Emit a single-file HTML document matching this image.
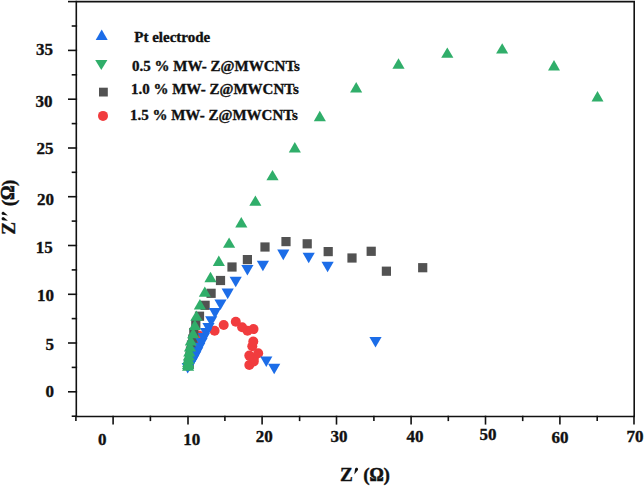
<!DOCTYPE html>
<html><head><meta charset="utf-8"><style>
html,body{margin:0;padding:0;background:#fff;}
body{width:644px;height:487px;overflow:hidden;}
svg{display:block;}
text{font-family:"Liberation Serif",serif;font-weight:bold;fill:#111;stroke:#111;stroke-width:0.35px;}
</style></head><body>
<svg width="644" height="487" viewBox="0 0 644 487">
<g stroke="#111" stroke-width="1.6" fill="none" stroke-linecap="square">
<path d="M76.3 1.6L634.2 1.6L634.2 416.5L76.3 416.5Z"/>
<path d="M68.8 391.8H76.3"/>
<path d="M68.8 343.0H76.3"/>
<path d="M68.8 294.3H76.3"/>
<path d="M68.8 245.5H76.3"/>
<path d="M68.8 196.7H76.3"/>
<path d="M68.8 148.0H76.3"/>
<path d="M68.8 99.2H76.3"/>
<path d="M68.8 50.4H76.3"/>
<path d="M68.8 1.6H76.3"/>
<path d="M72.5 416.2H76.3"/>
<path d="M72.5 367.4H76.3"/>
<path d="M72.5 318.6H76.3"/>
<path d="M72.5 269.9H76.3"/>
<path d="M72.5 221.1H76.3"/>
<path d="M72.5 172.3H76.3"/>
<path d="M72.5 123.6H76.3"/>
<path d="M72.5 74.8H76.3"/>
<path d="M72.5 26.0H76.3"/>
<path d="M113.1 416.5V423.8"/>
<path d="M188.0 416.5V423.8"/>
<path d="M262.1 416.5V423.8"/>
<path d="M336.5 416.5V423.8"/>
<path d="M411.1 416.5V423.8"/>
<path d="M485.5 416.5V423.8"/>
<path d="M559.9 416.5V423.8"/>
<path d="M634.0 416.5V423.8"/>
<path d="M75.9 416.5V420.3"/>
<path d="M150.4 416.5V420.3"/>
<path d="M224.9 416.5V420.3"/>
<path d="M299.6 416.5V420.3"/>
<path d="M373.9 416.5V420.3"/>
<path d="M448.3 416.5V420.3"/>
<path d="M522.7 416.5V420.3"/>
<path d="M597.2 416.5V420.3"/>
</g>
<g fill="#f13c3e"><circle cx="188.0" cy="366.0" r="5.0"/><circle cx="189.0" cy="361.0" r="5.0"/><circle cx="190.5" cy="355.0" r="5.0"/><circle cx="192.5" cy="349.0" r="5.0"/><circle cx="195.0" cy="342.0" r="5.0"/><circle cx="199.0" cy="335.5" r="5.0"/><circle cx="249.3" cy="365.0" r="5.0"/><circle cx="253.8" cy="361.5" r="5.0"/><circle cx="253.8" cy="358.6" r="5.0"/><circle cx="249.3" cy="355.6" r="5.0"/><circle cx="258.2" cy="353.2" r="5.0"/><circle cx="252.3" cy="346.3" r="5.0"/><circle cx="253.3" cy="341.5" r="5.0"/><circle cx="253.5" cy="329.1" r="5.0"/><circle cx="247.5" cy="330.8" r="5.0"/><circle cx="242.1" cy="327.3" r="5.0"/><circle cx="235.8" cy="321.8" r="5.0"/><circle cx="223.7" cy="325.0" r="5.0"/><circle cx="214.6" cy="330.8" r="5.0"/></g>
<g fill="#525252"><rect x="184.6" y="359.4" width="9.2" height="9.2"/><rect x="184.9" y="355.4" width="9.2" height="9.2"/><rect x="185.4" y="351.4" width="9.2" height="9.2"/><rect x="185.9" y="346.4" width="9.2" height="9.2"/><rect x="186.9" y="340.4" width="9.2" height="9.2"/><rect x="188.2" y="334.4" width="9.2" height="9.2"/><rect x="189.2" y="327.9" width="9.2" height="9.2"/><rect x="191.2" y="319.9" width="9.2" height="9.2"/><rect x="194.9" y="311.6" width="9.2" height="9.2"/><rect x="200.5" y="300.7" width="9.2" height="9.2"/><rect x="206.5" y="288.7" width="9.2" height="9.2"/><rect x="215.9" y="275.9" width="9.2" height="9.2"/><rect x="227.4" y="262.4" width="9.2" height="9.2"/><rect x="242.8" y="255.0" width="9.2" height="9.2"/><rect x="260.4" y="242.4" width="9.2" height="9.2"/><rect x="281.4" y="237.0" width="9.2" height="9.2"/><rect x="302.6" y="239.2" width="9.2" height="9.2"/><rect x="323.6" y="247.0" width="9.2" height="9.2"/><rect x="347.4" y="253.4" width="9.2" height="9.2"/><rect x="366.6" y="246.7" width="9.2" height="9.2"/><rect x="381.8" y="266.6" width="9.2" height="9.2"/><rect x="418.1" y="263.1" width="9.2" height="9.2"/></g>
<g fill="#1c6de8"><path d="M268.1 363.7L280.3 363.7L274.2 374.3Z"/><path d="M260.2 356.5L272.4 356.5L266.3 367.1Z"/><path d="M181.6 363.0L193.8 363.0L187.7 373.6Z"/><path d="M183.4 360.7L195.6 360.7L189.5 371.3Z"/><path d="M185.3 358.0L197.5 358.0L191.4 368.6Z"/><path d="M187.2 354.7L199.4 354.7L193.3 365.3Z"/><path d="M189.1 351.2L201.3 351.2L195.2 361.8Z"/><path d="M191.1 347.2L203.3 347.2L197.2 357.8Z"/><path d="M193.2 342.7L205.4 342.7L199.3 353.3Z"/><path d="M195.4 338.0L207.6 338.0L201.5 348.6Z"/><path d="M197.7 333.1L209.9 333.1L203.8 343.7Z"/><path d="M200.0 328.1L212.2 328.1L206.1 338.7Z"/><path d="M202.4 323.1L214.6 323.1L208.5 333.7Z"/><path d="M205.1 316.2L217.3 316.2L211.2 326.8Z"/><path d="M208.9 308.1L221.1 308.1L215.0 318.7Z"/><path d="M214.4 299.4L226.6 299.4L220.5 310.0Z"/><path d="M221.6 288.6L233.8 288.6L227.7 299.2Z"/><path d="M229.6 276.7L241.8 276.7L235.7 287.3Z"/><path d="M241.3 264.9L253.5 264.9L247.4 275.5Z"/><path d="M256.8 260.7L269.0 260.7L262.9 271.3Z"/><path d="M277.2 249.6L289.4 249.6L283.3 260.2Z"/><path d="M302.6 252.7L314.8 252.7L308.7 263.3Z"/><path d="M321.5 261.7L333.7 261.7L327.6 272.3Z"/><path d="M369.4 337.0L381.6 337.0L375.5 347.6Z"/></g>
<g fill="#30ae6a"><path d="M188.1 360.3L194.2 370.7L182.0 370.7Z"/><path d="M188.1 358.6L194.2 369.0L182.0 369.0Z"/><path d="M188.2 356.6L194.2 367.0L182.1 367.0Z"/><path d="M188.4 353.6L194.5 364.0L182.3 364.0Z"/><path d="M188.8 350.1L194.9 360.5L182.8 360.5Z"/><path d="M189.3 346.1L195.4 356.5L183.2 356.5Z"/><path d="M190.0 341.1L196.1 351.5L183.9 351.5Z"/><path d="M190.8 335.1L196.9 345.5L184.8 345.5Z"/><path d="M193.2 327.8L199.2 338.2L187.1 338.2Z"/><path d="M194.8 319.5L200.9 329.9L188.8 329.9Z"/><path d="M196.4 310.4L202.5 320.8L190.3 320.8Z"/><path d="M199.9 299.1L206.0 309.5L193.8 309.5Z"/><path d="M204.8 286.4L210.9 296.8L198.8 296.8Z"/><path d="M210.5 271.8L216.6 282.2L204.4 282.2Z"/><path d="M218.8 255.6L224.9 266.0L212.8 266.0Z"/><path d="M229.1 237.4L235.2 247.8L223.0 247.8Z"/><path d="M241.3 217.1L247.4 227.5L235.2 227.5Z"/><path d="M255.4 195.4L261.4 205.8L249.3 205.8Z"/><path d="M272.5 169.9L278.6 180.3L266.4 180.3Z"/><path d="M294.8 142.1L300.9 152.5L288.8 152.5Z"/><path d="M319.8 110.8L325.9 121.2L313.8 121.2Z"/><path d="M356.2 82.1L362.2 92.5L350.1 92.5Z"/><path d="M398.5 58.3L404.6 68.7L392.4 68.7Z"/><path d="M447.3 47.4L453.4 57.8L441.2 57.8Z"/><path d="M502.2 43.2L508.2 53.6L496.1 53.6Z"/><path d="M554.0 60.0L560.0 70.4L548.0 70.4Z"/><path d="M597.5 91.1L603.5 101.5L591.5 101.5Z"/></g>
<g fill="#1c6de8"><path d="M101.7 29.6L107.7 39.9L95.7 39.9Z"/></g>
<g fill="#30ae6a"><path d="M95.2 59.9L107.4 59.9L101.3 70.1Z"/></g>
<g fill="#525252"><rect x="99.0" y="87.7" width="8.8" height="8.8"/></g>
<g fill="#f13c3e"><circle cx="103.0" cy="115.9" r="5.0"/></g>
<text x="97.9" y="444.9" font-size="17">0</text><text x="183.3" y="444.9" font-size="17">10</text><text x="255.7" y="441.8" font-size="17">20</text><text x="330.5" y="441.8" font-size="17">30</text><text x="406.5" y="442.2" font-size="17">40</text><text x="479.5" y="440.2" font-size="17">50</text><text x="551.6" y="442.6" font-size="17">60</text><text x="626.5" y="442.1" font-size="17">70</text><text x="36.0" y="55.2" font-size="17">35</text><text x="35.5" y="106.5" font-size="17">30</text><text x="36.4" y="154.0" font-size="17">25</text><text x="36.9" y="205.1" font-size="17">20</text><text x="35.7" y="252.6" font-size="17">15</text><text x="36.9" y="301.1" font-size="17">10</text><text x="45.4" y="349.8" font-size="17">5</text><text x="45.4" y="397.2" font-size="17">0</text><text x="134.3" y="42.3" font-size="15.0">Pt electrode</text><text x="132.0" y="70.7" font-size="15.0">0.5 % MW- Z@MWCNTs</text><text x="130.9" y="94.4" font-size="15.0">1.0 % MW- Z@MWCNTs</text><text x="129.9" y="119.7" font-size="15.0">1.5 % MW- Z@MWCNTs</text><text x="339.9" y="481.1" font-size="19.3">Z</text><g fill="#111"><path d="M355.07 468.70 L355.24 468.39 L355.48 468.14 L355.76 467.94 L356.08 467.81 L356.42 467.75 L356.77 467.77 L357.10 467.87 L357.41 468.04 L357.66 468.28 L357.86 468.56 L357.99 468.88 L358.05 469.22 L358.03 469.57 L357.93 469.90 L354.30 474.50Z"/></g><text x="363.15" y="481.1" font-size="19.3">(</text><text x="369.5" y="480.6" font-size="17.8" style="stroke-width:0.6px">Ω</text><text x="383.4" y="481.1" font-size="19.3">)</text><g transform="translate(15.2 234) rotate(-90)"><text x="-0.8" y="0" font-size="19.3">Z</text><text x="27.75" y="0" font-size="19.3">(</text><text x="34.1" y="-0.9" font-size="18.3" style="stroke-width:0.6px">Ω</text><text x="47.9" y="0" font-size="19.3">)</text></g><g fill="#111"><path d="M2.57 214.87 L2.26 214.70 L2.00 214.45 L1.79 214.16 L1.66 213.83 L1.60 213.47 L1.63 213.12 L1.73 212.77 L1.90 212.46 L2.15 212.20 L2.44 211.99 L2.77 211.86 L3.13 211.80 L3.48 211.83 L3.83 211.93 L7.90 215.40Z"/><path d="M2.57 220.17 L2.26 220.00 L2.00 219.75 L1.79 219.46 L1.66 219.13 L1.60 218.77 L1.63 218.42 L1.73 218.07 L1.90 217.76 L2.15 217.50 L2.44 217.29 L2.77 217.16 L3.13 217.10 L3.48 217.13 L3.83 217.23 L7.90 220.70Z"/></g>
</svg>
</body></html>
